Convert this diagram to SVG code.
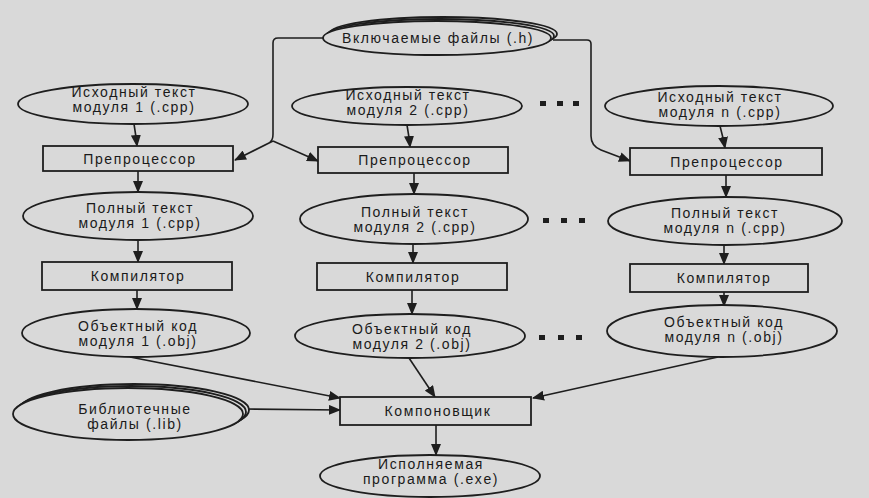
<svg xmlns="http://www.w3.org/2000/svg" width="869" height="498" viewBox="0 0 869 498">
<defs>
<style>
.bg{fill:#d9d9d9}
.sh{fill:#d9d9d9;stroke:#1e1e1e;stroke-width:1.8}
.ln{fill:none;stroke:#1e1e1e;stroke-width:1.6}
.t{font-family:"Liberation Sans",Arial,sans-serif;font-size:14px;letter-spacing:1.6px;fill:#1a1a1a;text-anchor:middle}
.dot{fill:#1e1e1e}
</style>
<marker id="ah" markerUnits="userSpaceOnUse" markerWidth="12" markerHeight="10" refX="11" refY="5" orient="auto">
<path d="M0,0 L12,5 L0,10 Z" fill="#1e1e1e"/>
</marker>
</defs>
<rect class="bg" x="0" y="0" width="869" height="498"/>

<g id="connectors">
<path class="ln" d="M323,38 H278 Q273,38 273,43 V134 Q273,140 270,142"/>
<path class="ln" d="M273,141 L235,160" marker-end="url(#ah)"/>
<path class="ln" d="M273,141 L318,161" marker-end="url(#ah)"/>
<path class="ln" d="M553,40 H587 Q591,40 591,44 V136 Q591,146 601,150 L630,161" marker-end="url(#ah)"/>
<path class="ln" d="M134,124 Q136,136 137,146" marker-end="url(#ah)"/>
<path class="ln" d="M138,171 V192" marker-end="url(#ah)"/>
<path class="ln" d="M138,240 V262" marker-end="url(#ah)"/>
<path class="ln" d="M137,290 V309" marker-end="url(#ah)"/>
<path class="ln" d="M407,125 Q409,136 410,147" marker-end="url(#ah)"/>
<path class="ln" d="M414,173 V194" marker-end="url(#ah)"/>
<path class="ln" d="M413,244 V263" marker-end="url(#ah)"/>
<path class="ln" d="M412,290 V314" marker-end="url(#ah)"/>
<path class="ln" d="M720,126 Q723,137 725,148" marker-end="url(#ah)"/>
<path class="ln" d="M726,175 V197" marker-end="url(#ah)"/>
<path class="ln" d="M724,245 V264" marker-end="url(#ah)"/>
<path class="ln" d="M724,292 V306" marker-end="url(#ah)"/>
<path class="ln" d="M130,357 L340,398" marker-end="url(#ah)"/>
<path class="ln" d="M244,409 L340,410" marker-end="url(#ah)"/>
<path class="ln" d="M409,358 L435,397" marker-end="url(#ah)"/>
<path class="ln" d="M718,357 L533,398" marker-end="url(#ah)"/>
<path class="ln" d="M436,425 V455" marker-end="url(#ah)"/>
</g>

<g id="include">
<ellipse class="sh" cx="443" cy="34" rx="114" ry="17"/>
<ellipse class="sh" cx="440" cy="36" rx="114" ry="17"/>
<ellipse class="sh" cx="437" cy="38" rx="114" ry="17"/>
<text class="t" x="438" y="43">Включаемые файлы (.h)</text>
</g>

<g id="src1">
<ellipse class="sh" cx="133" cy="104" rx="115" ry="20"/>
<text class="t" x="134" y="97">Исходный текст</text>
<text class="t" x="134" y="112">модуля 1 (.cpp)</text>
</g>
<g id="pre1">
<rect class="sh" x="43" y="146" width="190" height="25"/>
<text class="t" x="140" y="164">Препроцессор</text>
</g>
<g id="full1">
<ellipse class="sh" cx="138" cy="216" rx="115" ry="24"/>
<text class="t" x="140" y="213">Полный текст</text>
<text class="t" x="140" y="228">модуля 1 (.cpp)</text>
</g>
<g id="comp1">
<rect class="sh" x="42" y="262" width="190" height="28"/>
<text class="t" x="138" y="281">Компилятор</text>
</g>
<g id="obj1">
<ellipse class="sh" cx="136" cy="333" rx="114" ry="24"/>
<text class="t" x="138" y="331">Объектный код</text>
<text class="t" x="138" y="346">модуля 1 (.obj)</text>
</g>
<g id="lib">
<ellipse class="sh" cx="134" cy="410" rx="115" ry="26"/>
<ellipse class="sh" cx="131" cy="412" rx="115" ry="26"/>
<ellipse class="sh" cx="128" cy="414" rx="115" ry="26"/>
<text class="t" x="135" y="414">Библиотечные</text>
<text class="t" x="135" y="429">файлы (.lib)</text>
</g>

<g id="src2">
<ellipse class="sh" cx="407" cy="106" rx="115" ry="19"/>
<text class="t" x="408" y="100">Исходный текст</text>
<text class="t" x="408" y="115">модуля 2 (.cpp)</text>
</g>
<g id="pre2">
<rect class="sh" x="318" y="147" width="190" height="26"/>
<text class="t" x="415" y="165">Препроцессор</text>
</g>
<g id="full2">
<ellipse class="sh" cx="414" cy="219" rx="114" ry="25"/>
<text class="t" x="415" y="217">Полный текст</text>
<text class="t" x="415" y="232">модуля 2 (.cpp)</text>
</g>
<g id="comp2">
<rect class="sh" x="317" y="263" width="190" height="27"/>
<text class="t" x="413" y="282">Компилятор</text>
</g>
<g id="obj2">
<ellipse class="sh" cx="410" cy="336" rx="115" ry="22"/>
<text class="t" x="412" y="334">Объектный код</text>
<text class="t" x="412" y="349">модуля 2 (.obj)</text>
</g>

<g id="srcn">
<ellipse class="sh" cx="719" cy="106" rx="114" ry="20"/>
<text class="t" x="720" y="102">Исходный текст</text>
<text class="t" x="720" y="117">модуля n (.cpp)</text>
</g>
<g id="pren">
<rect class="sh" x="630" y="148" width="192" height="27"/>
<text class="t" x="727" y="167">Препроцессор</text>
</g>
<g id="fulln">
<ellipse class="sh" cx="725" cy="221" rx="117" ry="24"/>
<text class="t" x="725" y="218">Полный текст</text>
<text class="t" x="725" y="233">модуля n (.cpp)</text>
</g>
<g id="compn">
<rect class="sh" x="630" y="264" width="178" height="28"/>
<text class="t" x="724" y="283">Компилятор</text>
</g>
<g id="objn">
<ellipse class="sh" cx="722" cy="331" rx="115" ry="26"/>
<text class="t" x="724" y="327">Объектный код</text>
<text class="t" x="724" y="342">модуля n (.obj)</text>
</g>

<g id="linker">
<rect class="sh" x="340" y="397" width="191" height="28"/>
<text class="t" x="438" y="416">Компоновщик</text>
</g>
<g id="exe">
<ellipse class="sh" cx="430" cy="476" rx="110" ry="21"/>
<text class="t" x="431" y="469">Исполняемая</text>
<text class="t" x="431" y="484">программа (.exe)</text>
</g>

<g id="dots">
<rect class="dot" x="540" y="101" width="6" height="5"/>
<rect class="dot" x="557" y="101" width="6" height="5"/>
<rect class="dot" x="573" y="101" width="6" height="5"/>
<rect class="dot" x="543" y="218" width="6" height="5"/>
<rect class="dot" x="561" y="218" width="6" height="5"/>
<rect class="dot" x="579" y="218" width="6" height="5"/>
<rect class="dot" x="539" y="335" width="6" height="5"/>
<rect class="dot" x="558" y="335" width="6" height="5"/>
<rect class="dot" x="576" y="335" width="6" height="5"/>
</g>
</svg>
